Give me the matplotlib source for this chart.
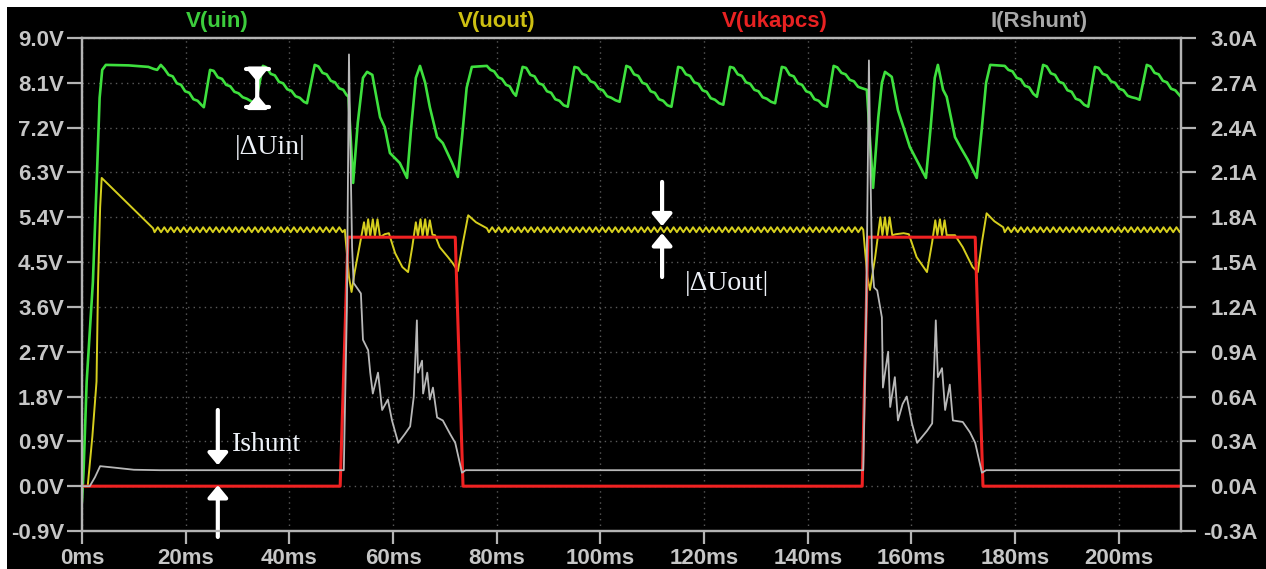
import matplotlib.pyplot as plt
import numpy as np
from matplotlib.ticker import FuncFormatter, MultipleLocator
from matplotlib.patches import Rectangle

# LTspice transient: boost/buck supply with a pulsed load, time in ms
# V(uin) [V]
uin = [
    (0.0, -0.30), (0.3, 0.3), (0.9, 2.1), (2.1, 4.1), (2.9, 6.3), (3.4, 7.8), (3.9, 8.36), (4.6, 8.46),
    (9.0, 8.45), (12.8, 8.42), (13.8, 8.38), (14.5, 8.36), (15.2, 8.46), (15.9, 8.38),
    (16.7, 8.26), (17.5, 8.23), (18.3, 8.09), (19.1, 8.06), (19.9, 7.93), (20.7, 7.90),
    (21.5, 7.77), (22.3, 7.74), (23.0, 7.66), (23.5, 7.61),
    (24.7, 8.36), (25.4, 8.34), (26.2, 8.21), (27.0, 8.18), (27.8, 8.06), (28.6, 8.03),
    (29.4, 7.92), (30.2, 7.89), (31.0, 7.81), (31.8, 7.78), (32.8, 7.72), (33.5, 7.70),
    (34.9, 8.44), (35.6, 8.41), (36.4, 8.28), (37.2, 8.25), (38.0, 8.12), (38.8, 8.09),
    (39.6, 7.97), (40.4, 7.94), (41.2, 7.83), (42.0, 7.80), (42.8, 7.72), (43.4, 7.69),
    (44.9, 8.46), (45.6, 8.43), (46.4, 8.30), (47.2, 8.27), (48.0, 8.14), (48.8, 8.11),
    (49.6, 7.99), (50.4, 7.96), (51.0, 7.86), (51.4, 7.82),
    (52.3, 6.09), (53.2, 7.30), (54.2, 8.20), (55.0, 8.32), (56.0, 8.26), (57.5, 7.41),
    (58.4, 7.21), (59.4, 6.69), (61.3, 6.49), (62.7, 6.19),
    (63.5, 7.20), (64.4, 8.20), (65.2, 8.44), (66.2, 8.10), (67.1, 7.61), (68.5, 7.01),
    (69.6, 6.89), (71.4, 6.49), (72.5, 6.21),
    (73.3, 7.00), (74.2, 8.00), (75.2, 8.42), (78.1, 8.44),
    (78.8, 8.36), (79.5, 8.33), (80.3, 8.21), (81.0, 8.18), (81.8, 8.06), (82.5, 8.03), (83.2, 7.90), (83.7, 7.84),
    (85.0, 8.42), (85.7, 8.40), (86.5, 8.26), (87.3, 8.23), (88.1, 8.09), (88.9, 8.06),
    (89.7, 7.93), (90.5, 7.90), (91.3, 7.77), (92.1, 7.74), (92.9, 7.65), (93.7, 7.62),
    (95.0, 8.42), (95.7, 8.40), (96.5, 8.28), (97.3, 8.25), (98.1, 8.13), (98.9, 8.10),
    (99.7, 7.98), (100.5, 7.95), (101.3, 7.83), (102.1, 7.80), (102.9, 7.75), (103.7, 7.72),
    (105.0, 8.44), (105.7, 8.41), (106.5, 8.27), (107.3, 8.24), (108.1, 8.10), (108.9, 8.07),
    (109.7, 7.93), (110.5, 7.90), (111.3, 7.77), (112.1, 7.74), (112.9, 7.65), (113.7, 7.62),
    (115.0, 8.42), (115.7, 8.40), (116.5, 8.27), (117.3, 8.24), (118.1, 8.11), (118.9, 8.08),
    (119.7, 7.95), (120.5, 7.92), (121.3, 7.79), (122.1, 7.76), (122.9, 7.69), (123.7, 7.66),
    (125.0, 8.42), (125.7, 8.40), (126.5, 8.27), (127.3, 8.24), (128.1, 8.11), (128.9, 8.08),
    (129.7, 7.96), (130.5, 7.93), (131.3, 7.81), (132.1, 7.78), (132.9, 7.72), (133.7, 7.69),
    (135.0, 8.42), (135.7, 8.40), (136.5, 8.26), (137.3, 8.23), (138.1, 8.09), (138.9, 8.06),
    (139.7, 7.93), (140.5, 7.90), (141.3, 7.77), (142.1, 7.74), (142.9, 7.65), (143.7, 7.62),
    (145.0, 8.44), (145.7, 8.41), (146.5, 8.30), (147.3, 8.27), (148.1, 8.16), (148.9, 8.13),
    (149.7, 8.02), (150.5, 7.99), (151.4, 7.96),
    (152.6, 5.99), (153.6, 7.40), (154.3, 8.10), (154.9, 8.32), (156.2, 8.22), (157.4, 7.55),
    (158.5, 7.20), (159.7, 6.81), (161.3, 6.49), (162.8, 6.19),
    (163.7, 7.20), (164.5, 8.20), (165.1, 8.46), (166.1, 7.96), (166.8, 7.82), (168.4, 7.01),
    (169.5, 6.80), (170.9, 6.55), (172.6, 6.19),
    (173.5, 7.10), (174.4, 8.10), (175.2, 8.46), (178.0, 8.44),
    (178.7, 8.36), (179.5, 8.33), (180.3, 8.20), (181.1, 8.17), (181.9, 8.04), (182.7, 8.01), (183.5, 7.88), (184.2, 7.82),
    (185.4, 8.46), (186.1, 8.43), (186.9, 8.29), (187.7, 8.26), (188.5, 8.12), (189.3, 8.09),
    (190.1, 7.95), (190.9, 7.92), (191.7, 7.78), (192.5, 7.75), (193.3, 7.66), (194.1, 7.62),
    (195.4, 8.42), (196.1, 8.40), (196.9, 8.28), (197.7, 8.25), (198.5, 8.13), (199.3, 8.10),
    (200.1, 7.98), (200.9, 7.95), (201.7, 7.84), (202.5, 7.81), (203.3, 7.79), (204.0, 7.76),
    (205.4, 8.46), (206.1, 8.43), (206.9, 8.30), (207.7, 8.27), (208.5, 8.14), (209.3, 8.11),
    (210.1, 7.98), (210.9, 7.95), (211.8, 7.84), (212.0, 7.82),
]

# V(uout) [V]: startup, ripple stretches sampled every 0.625 ms, and the two load pulses
uout_startup = [(0.0, 0.0), (1.1, 0.0), (2.0, 1.0), (2.8, 2.1), (3.1, 4.1), (3.5, 5.6), (3.8, 6.19), (13.7, 5.18)]
ripple_step = 0.625
uout_ripple1_start = 14.0
uout_ripple1 = [
    5.10, 5.20, 5.10, 5.20, 5.10, 5.20, 5.10, 5.20, 5.10, 5.20, 5.10, 5.20,
    5.10, 5.20, 5.10, 5.20, 5.10, 5.20, 5.10, 5.20, 5.10, 5.20, 5.10, 5.20,
    5.10, 5.20, 5.10, 5.20, 5.10, 5.20, 5.10, 5.20, 5.10, 5.20, 5.10, 5.20,
    5.10, 5.20, 5.10, 5.20, 5.10, 5.20, 5.10, 5.20, 5.10, 5.20, 5.10, 5.20,
    5.10, 5.20, 5.10, 5.20, 5.10, 5.20, 5.10, 5.20, 5.10, 5.20, 5.10,
]
uout_load1 = [
    (50.7, 5.15), (51.5, 4.20), (52.0, 3.90), (52.6, 4.30), (53.5, 4.80), (54.4, 5.30),
    (54.8, 5.02), (55.2, 5.36), (55.6, 5.02), (56.1, 5.36), (56.5, 5.02), (57.0, 5.36),
    (57.5, 5.00), (58.4, 5.06), (59.2, 5.08), (60.4, 4.68), (61.8, 4.40), (62.9, 4.30),
    (63.7, 4.80), (64.4, 5.30), (64.8, 5.02), (65.3, 5.36), (65.7, 5.02), (66.2, 5.36),
    (66.6, 5.02), (67.1, 5.34), (67.6, 5.05), (68.1, 5.04), (69.0, 4.80), (70.6, 4.60),
    (71.5, 4.48), (72.5, 4.32), (73.5, 4.90), (74.5, 5.44), (76.0, 5.30), (78.1, 5.18),
]
uout_ripple2_start = 78.5
uout_ripple2 = [
    5.10, 5.20, 5.10, 5.20, 5.10, 5.20, 5.10, 5.20, 5.10, 5.20, 5.10, 5.20,
    5.10, 5.20, 5.10, 5.20, 5.10, 5.20, 5.10, 5.20, 5.10, 5.20, 5.10, 5.20,
    5.10, 5.20, 5.10, 5.20, 5.10, 5.20, 5.10, 5.20, 5.10, 5.20, 5.10, 5.20,
    5.10, 5.20, 5.10, 5.20, 5.10, 5.20, 5.10, 5.20, 5.10, 5.20, 5.10, 5.20,
    5.10, 5.20, 5.10, 5.20, 5.10, 5.20, 5.10, 5.20, 5.10, 5.20, 5.10, 5.20,
    5.10, 5.20, 5.10, 5.20, 5.10, 5.20, 5.10, 5.20, 5.10, 5.20, 5.10, 5.20,
    5.10, 5.20, 5.10, 5.20, 5.10, 5.20, 5.10, 5.20, 5.10, 5.20, 5.10, 5.20,
    5.10, 5.20, 5.10, 5.20, 5.10, 5.20, 5.10, 5.20, 5.10, 5.20, 5.10, 5.20,
    5.10, 5.20, 5.10, 5.20, 5.10, 5.20, 5.10, 5.20, 5.10, 5.20, 5.10, 5.20,
    5.10, 5.20, 5.10, 5.20, 5.10, 5.20, 5.10, 5.20,
]
uout_load2 = [
    (150.7, 5.15), (151.5, 4.20), (152.0, 3.94), (153.0, 4.60), (153.5, 5.00), (154.0, 5.40),
    (154.4, 5.04), (154.9, 5.40), (155.3, 5.04), (155.8, 5.40), (156.3, 5.04), (157.0, 5.06),
    (158.5, 5.08), (159.5, 5.06), (161.0, 4.60), (163.0, 4.30), (164.0, 4.90), (164.6, 5.34),
    (165.0, 5.04), (165.5, 5.36), (165.9, 5.04), (166.4, 5.34), (166.8, 5.04), (168.4, 5.04),
    (169.9, 4.80), (171.8, 4.40), (172.8, 4.30), (173.6, 4.90), (174.5, 5.48), (176.0, 5.32),
    (177.7, 5.20),
]
uout_ripple3_start = 178.0
uout_ripple3 = [
    5.10, 5.20, 5.10, 5.20, 5.10, 5.20, 5.10, 5.20, 5.10, 5.20, 5.10, 5.20,
    5.10, 5.20, 5.10, 5.20, 5.10, 5.20, 5.10, 5.20, 5.10, 5.20, 5.10, 5.20,
    5.10, 5.20, 5.10, 5.20, 5.10, 5.20, 5.10, 5.20, 5.10, 5.20, 5.10, 5.20,
    5.10, 5.20, 5.10, 5.20, 5.10, 5.20, 5.10, 5.20, 5.10, 5.20, 5.10, 5.20,
    5.10, 5.20, 5.10, 5.20, 5.10, 5.20, 5.10,
]
uout_end = [(212.0, 5.15)]

# V(ukapcs) [V]
ukapcs = [(0.0, 0.0), (49.8, 0.0), (51.3, 5.0), (72.0, 5.0), (73.5, 0.0),
          (150.5, 0.0), (151.6, 5.0), (172.3, 5.0), (173.8, 0.0), (212.0, 0.0)]

# I(Rshunt) [A], right axis
ishunt = [
    (0.0, 0.0), (1.5, 0.0), (2.5, 0.06), (3.5, 0.134), (6.0, 0.125), (10.0, 0.11), (15.0, 0.107),
    (50.5, 0.107), (51.1, 1.2), (51.5, 2.89), (51.8, 2.2), (52.1, 1.6), (52.4, 1.36), (53.0, 1.33),
    (53.8, 1.29), (54.2, 0.98), (55.2, 0.91), (55.6, 0.76), (56.1, 0.62), (57.1, 0.76), (57.9, 0.51),
    (59.0, 0.58), (59.8, 0.44), (61.0, 0.29), (62.3, 0.35), (63.3, 0.40), (64.0, 0.60), (64.6, 1.11),
    (64.8, 0.76), (65.6, 0.84), (65.8, 0.62), (66.6, 0.76), (67.1, 0.58), (67.7, 0.66), (68.5, 0.46),
    (69.6, 0.44), (71.0, 0.35), (72.0, 0.29), (73.3, 0.09), (74.0, 0.107),
    (150.7, 0.107), (151.3, 1.2), (151.8, 2.85), (152.1, 2.1), (152.4, 1.5), (152.8, 1.33),
    (153.4, 1.31), (154.3, 1.13), (154.5, 0.66), (155.5, 0.90), (155.9, 0.53), (156.8, 0.73),
    (157.4, 0.44), (158.3, 0.55), (159.1, 0.60), (160.1, 0.42), (161.1, 0.29), (163.0, 0.37),
    (164.0, 0.42), (164.7, 1.11), (165.1, 0.73), (165.9, 0.79), (166.5, 0.51), (167.4, 0.68),
    (168.0, 0.44), (169.9, 0.43), (171.3, 0.36), (172.3, 0.29), (173.6, 0.09), (174.4, 0.107),
    (212.0, 0.107),
]

trace_names = ["V(uin)", "V(uout)", "V(ukapcs)", "I(Rshunt)"]
trace_colors = ["#3ee03e", "#d6cf1e", "#f02222", "#b8b8b8"]
title_colors = ["#3ccc3c", "#cdbf12", "#e82222", "#a8a8a8"]


def ripple(start, values):
    t = start + ripple_step * np.arange(len(values))
    return list(zip(t, values))


uout = (uout_startup + ripple(uout_ripple1_start, uout_ripple1) + uout_load1
        + ripple(uout_ripple2_start, uout_ripple2) + uout_load2
        + ripple(uout_ripple3_start, uout_ripple3) + uout_end)

plt.rcParams["font.family"] = "Liberation Sans"
axis_col = "#b4b4b4"
label_col = "#c6c6c6"

W, H = 1266, 569
fig = plt.figure(figsize=(W / 100, H / 100), dpi=100, facecolor="black")
ax = fig.add_axes([82 / W, 1 - 531 / H, (1181 - 82) / W, (531 - 38) / H])
ax.set_facecolor("black")
ax2 = ax.twinx()

lw = [1.9, 1.4, 2.2, 1.3]
for data, col, w in zip([uin, uout, ukapcs], trace_colors[:3], lw[:3]):
    t, v = np.array(data).T
    ax.plot(t, v, color=col, lw=w, solid_joinstyle="round")
t, a = np.array(ishunt).T
ax2.plot(t, a, color=trace_colors[3], lw=lw[3])

ax.set_xlim(0, 212)
ax.set_ylim(-0.9, 9.0)
ax2.set_ylim(-0.3, 3.0)
ax.xaxis.set_major_locator(MultipleLocator(20))
ax.yaxis.set_major_locator(MultipleLocator(0.9))
ax2.yaxis.set_major_locator(MultipleLocator(0.3))
ax.xaxis.set_major_formatter(FuncFormatter(lambda x, p: f"{x:.0f}ms"))
ax.yaxis.set_major_formatter(FuncFormatter(lambda y, p: f"{y:.1f}V"))
ax2.yaxis.set_major_formatter(FuncFormatter(lambda y, p: f"{y:.1f}A"))

ax.grid(True, color="#5a5a5a", lw=1.0, ls=(0, (1, 3)))
for a_ in (ax, ax2):
    for s in a_.spines.values():
        s.set_color(axis_col)
        s.set_linewidth(1.6)
ax.tick_params(axis="y", direction="out", length=11, width=1.6, color=axis_col,
               labelcolor=label_col, labelsize=16, pad=2)
ax.tick_params(axis="x", direction="out", length=9, width=1.6, color=axis_col,
               labelcolor=label_col, labelsize=16, pad=3)
ax2.tick_params(axis="y", direction="out", length=11, width=1.6, color=axis_col,
                labelcolor=label_col, labelsize=16, pad=44)
for lab in ax.get_xticklabels() + ax.get_yticklabels() + ax2.get_yticklabels():
    lab.set_fontweight("bold")
for lab in ax2.get_yticklabels():
    lab.set_horizontalalignment("right")

# trace names above the plot
for name, col, xc in zip(trace_names, title_colors, [217, 497, 775, 1039]):
    fig.text(xc / W, 1 - 21 / H, name, color=col, fontsize=16, fontweight="bold",
             ha="center", va="center")

# hand-drawn markers from the original figure
note_col = "#eef2f8"
serif = "Liberation Serif"
head = "-|>,head_length=0.36,head_width=0.3"
arrow_kw = dict(color="white", lw=3, shrinkA=0, shrinkB=0, mutation_scale=20)

# |dUin| dimension marker
ax.annotate("", xy=(33.8, 7.61), xytext=(33.8, 8.37), annotation_clip=False,
            arrowprops=dict(arrowstyle="|-|,widthA=0.42,widthB=0.42", **arrow_kw))
ax.annotate("", xy=(33.8, 8.12), xytext=(33.8, 8.37), annotation_clip=False,
            arrowprops=dict(arrowstyle=head, **arrow_kw))
ax.annotate("", xy=(33.8, 7.86), xytext=(33.8, 7.61), annotation_clip=False,
            arrowprops=dict(arrowstyle=head, **arrow_kw))
ax.text(36.3, 6.81, "|\u0394Uin|", color=note_col, fontsize=20, family=serif,
        ha="center", va="center")

# |dUout| arrows
ax.annotate("", xy=(111.9, 5.22), xytext=(111.9, 6.11), annotation_clip=False,
            arrowprops=dict(arrowstyle=head, **arrow_kw))
ax.annotate("", xy=(111.9, 5.08), xytext=(111.9, 4.20), annotation_clip=False,
            arrowprops=dict(arrowstyle=head, **arrow_kw))
ax.text(124.4, 4.08, "|\u0394Uout|", color=note_col, fontsize=20, family=serif,
        ha="center", va="center")

# Ishunt arrows
ax.annotate("", xy=(26.2, 0.42), xytext=(26.2, 1.53), annotation_clip=False,
            arrowprops=dict(arrowstyle=head, **arrow_kw))
ax.annotate("", xy=(26.2, 0.02), xytext=(26.2, -1.02), annotation_clip=False,
            arrowprops=dict(arrowstyle=head, **arrow_kw))
ax.text(28.9, 0.84, "Ishunt", color=note_col, fontsize=20, family=serif,
        ha="left", va="center")

# white strips along the top and left edge of the screenshot
fig.add_artist(Rectangle((0, 1 - 7 / H), 1, 7 / H, transform=fig.transFigure,
                         facecolor="white", edgecolor="none"))
fig.add_artist(Rectangle((0, 0), 7 / W, 1, transform=fig.transFigure,
                         facecolor="white", edgecolor="none"))

fig.savefig("out.png", dpi=100, facecolor="black")
